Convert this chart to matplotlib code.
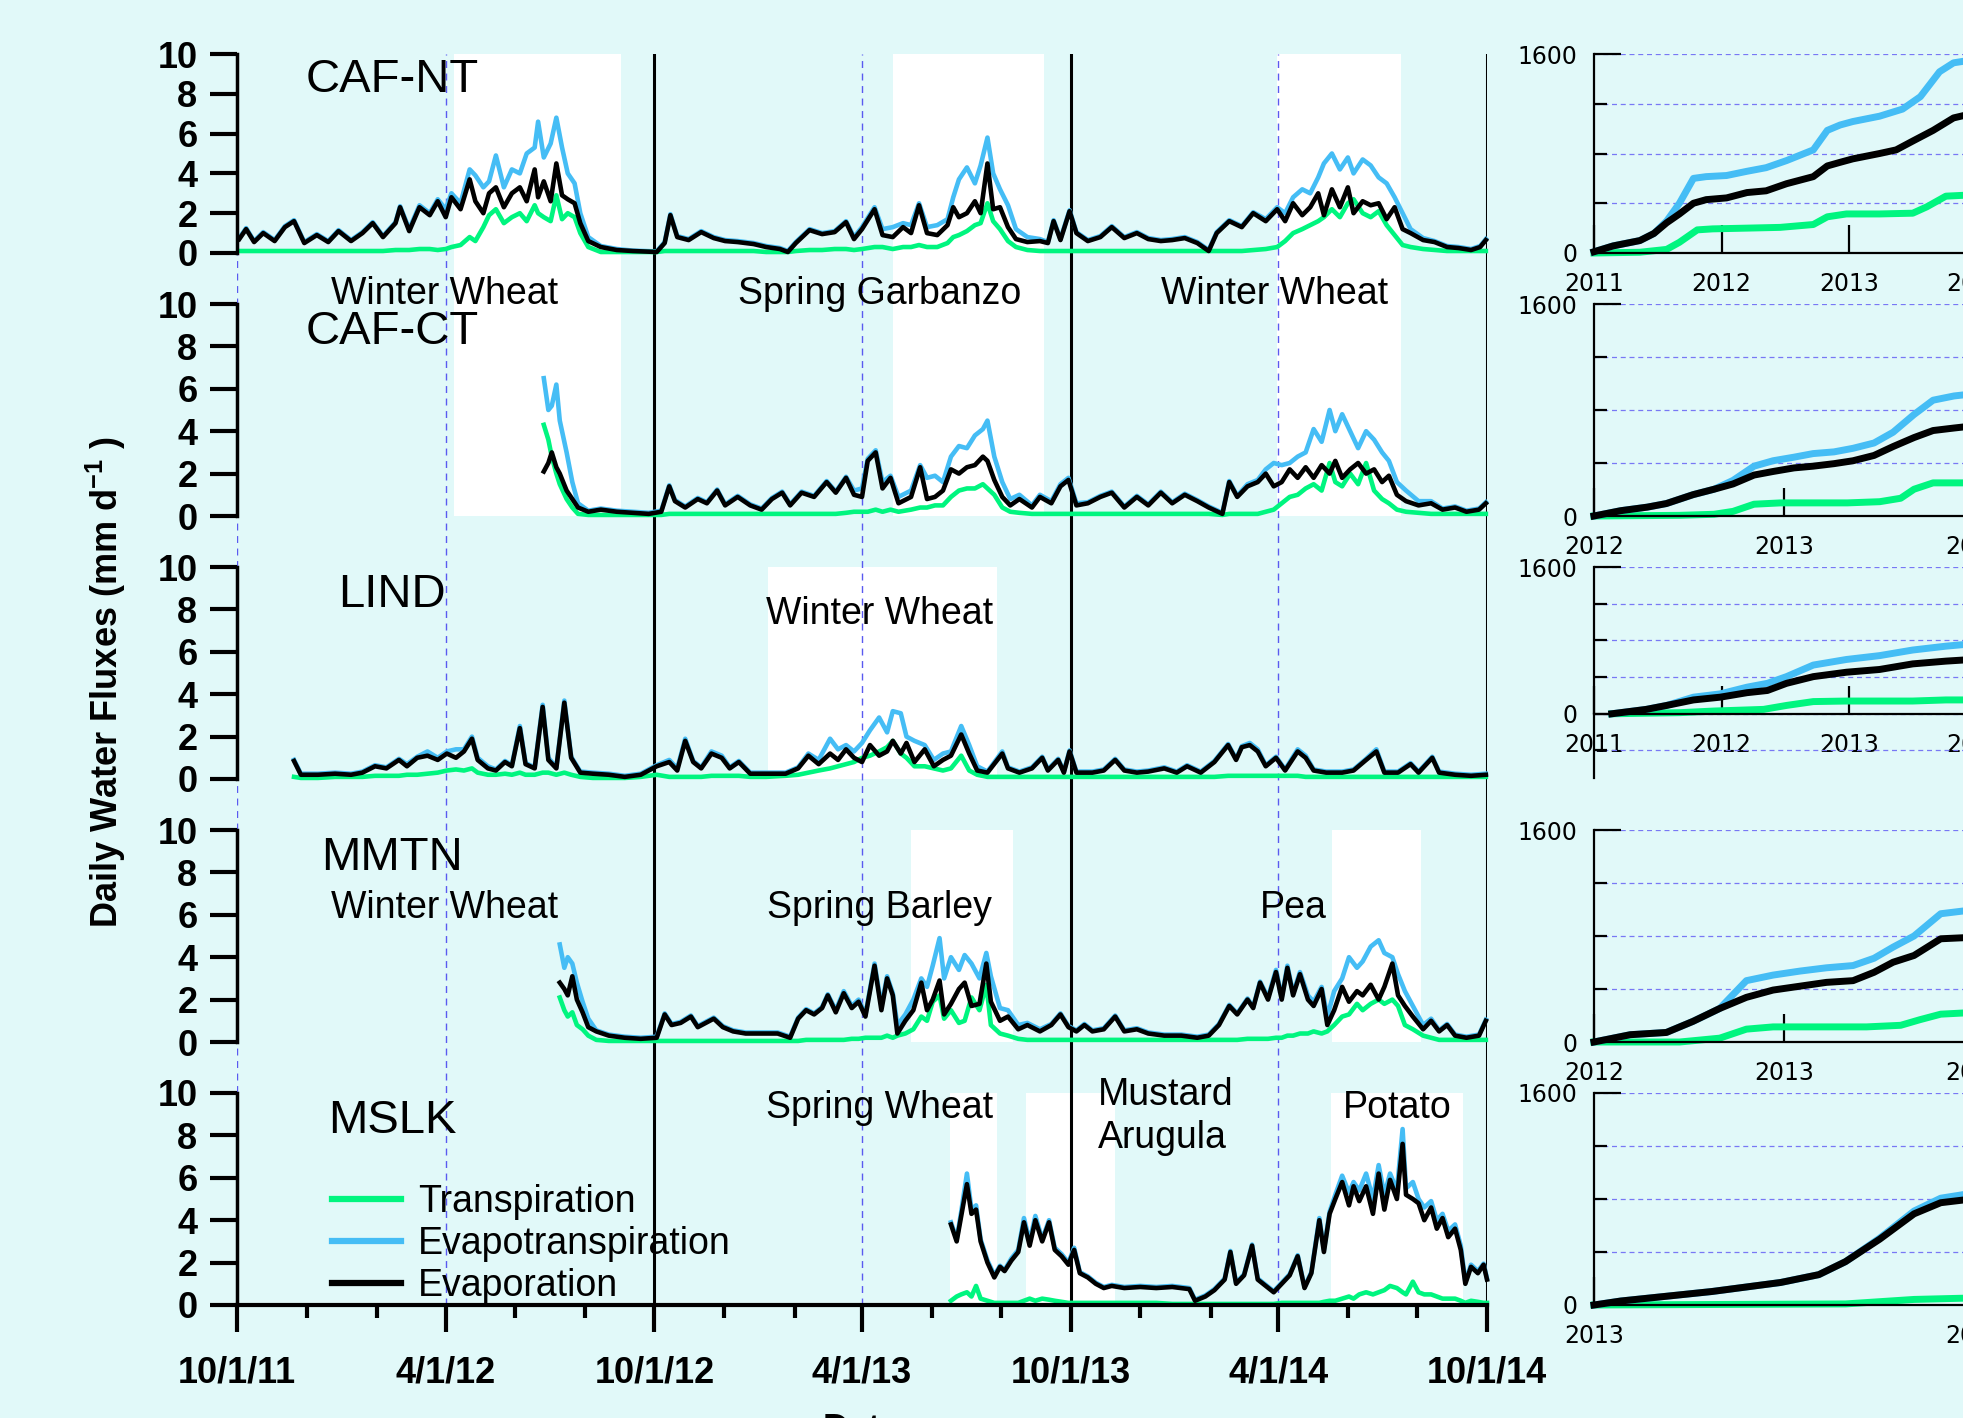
import numpy as np
import matplotlib
matplotlib.use('Agg')
import matplotlib.pyplot as plt
import matplotlib.dates as mdates

plt.rcParams['font.family'] = ['Liberation Sans', 'DejaVu Sans']
plt.rcParams['mathtext.fontset'] = 'custom'
plt.rcParams['mathtext.rm'] = 'Liberation Sans'
plt.rcParams['mathtext.bf'] = 'Liberation Sans:bold'

BG = '#E1F9F9'
GREEN = '#00F57F'
BLUE = '#45BDF5'
DASH = '#5A5AF0'
GRID = '#7878F5'

# ---------------- daily water fluxes (mm/d), day 0 = 10/1/11 ----------------
days_nt = [2, 8, 15, 23, 33, 42, 50, 59, 70, 80,
           89, 100, 110, 119, 128, 139, 143, 151, 160, 169,
           176, 183, 188, 196, 204, 209, 216, 221, 227, 234,
           241, 248, 254, 261, 264, 269, 275, 280, 285, 290,
           296, 301, 308, 319, 333, 347, 368, 375, 380, 386,
           396, 407, 418, 428, 439, 453, 464, 476, 483, 490,
           502, 513, 524, 534, 541, 548, 559, 566, 575, 584,
           591, 598, 605, 614, 623, 628, 633, 640, 647, 652,
           658, 663, 669, 676, 683, 693, 704, 711, 716, 722,
           730, 736, 746, 757, 767, 778, 789, 799, 810, 820,
           831, 842, 852, 859, 870, 881, 891, 902, 912, 919,
           926, 934, 941, 948, 953, 960, 967, 974, 979, 987,
           994, 1001, 1008, 1015, 1022, 1029, 1040, 1050, 1061, 1071,
           1082, 1090, 1095]
e_nt = [0.7, 1.2, 0.55, 1.0, 0.6, 1.3, 1.6, 0.5, 0.9, 0.55,
        1.1, 0.6, 1.0, 1.5, 0.8, 1.5, 2.3, 1.1, 2.3, 1.9,
        2.6, 1.8, 2.8, 2.2, 3.7, 2.6, 2.0, 3.0, 3.3, 2.3,
        3.0, 3.3, 2.6, 4.2, 2.8, 3.6, 2.6, 4.5, 2.9, 2.7,
        2.5, 1.5, 0.6, 0.3, 0.15, 0.1, 0.05, 0.5, 1.9, 0.8,
        0.65, 1.05, 0.75, 0.6, 0.55, 0.45, 0.3, 0.2, 0.05, 0.5,
        1.15, 0.95, 1.05, 1.55, 0.7, 1.2, 2.2, 0.9, 0.8, 1.3,
        1.0, 2.4, 1.0, 0.9, 1.4, 2.3, 1.8, 2.0, 2.6, 2.0,
        4.5, 2.2, 2.3, 1.3, 0.7, 0.55, 0.6, 0.5, 1.6, 0.65,
        2.1, 1.0, 0.6, 0.8, 1.3, 0.75, 1.0, 0.7, 0.6, 0.65,
        0.75, 0.5, 0.1, 1.0, 1.6, 1.3, 2.0, 1.6, 2.2, 1.6,
        2.5, 1.9, 2.3, 3.0, 1.9, 3.2, 2.3, 3.3, 2.0, 2.6,
        2.4, 2.5, 1.7, 2.3, 1.2, 1.0, 0.65, 0.55, 0.3, 0.25,
        0.15, 0.3, 0.65]
et_nt = [0.75, 1.25, 0.6, 1.05, 0.65, 1.35, 1.65, 0.55, 0.95, 0.6,
         1.15, 0.65, 1.05, 1.55, 0.85, 1.55, 2.35, 1.2, 2.4, 2.0,
         2.7, 2.2, 3.0, 2.5, 4.2, 3.9, 3.3, 3.6, 4.9, 3.3,
         4.2, 4.0, 5.0, 5.3, 6.6, 4.8, 5.5, 6.8, 5.3, 4.0,
         3.5, 2.0, 0.8, 0.35, 0.2, 0.12, 0.08, 0.55, 1.95, 0.85,
         0.7, 1.1, 0.8, 0.65, 0.6, 0.5, 0.35, 0.25, 0.1, 0.55,
         1.2, 1.0, 1.1, 1.6, 0.8, 1.3, 2.3, 1.2, 1.3, 1.5,
         1.4, 2.5, 1.3, 1.4, 1.7, 2.8, 3.7, 4.3, 3.5, 4.4,
         5.8, 4.0, 3.2, 2.4, 1.2, 0.8, 0.7, 0.55, 1.65, 0.7,
         2.15, 1.05, 0.65, 0.85, 1.35, 0.8, 1.05, 0.75, 0.65, 0.7,
         0.8, 0.55, 0.15, 1.05, 1.65, 1.35, 2.05, 1.7, 2.3, 2.0,
         2.8, 3.2, 3.0, 3.8, 4.5, 5.0, 4.2, 4.8, 4.0, 4.7,
         4.4, 3.8, 3.5, 2.8, 2.0, 1.2, 0.75, 0.6, 0.35, 0.3,
         0.2, 0.35, 0.7]
t_nt = [0.1, 0.1, 0.1, 0.1, 0.1, 0.1, 0.1, 0.1, 0.1, 0.1,
        0.1, 0.1, 0.1, 0.1, 0.1, 0.15, 0.15, 0.15, 0.2, 0.2,
        0.15, 0.2, 0.3, 0.4, 0.8, 0.6, 1.3, 1.9, 2.2, 1.5,
        1.8, 2.0, 1.6, 2.4, 2.0, 1.8, 1.6, 2.9, 1.7, 2.0,
        1.8, 1.0, 0.3, 0.05, 0.05, 0.05, 0.05, 0.1, 0.1, 0.1,
        0.1, 0.1, 0.1, 0.1, 0.1, 0.1, 0.05, 0.05, 0.05, 0.1,
        0.15, 0.15, 0.2, 0.2, 0.15, 0.2, 0.3, 0.3, 0.2, 0.3,
        0.3, 0.4, 0.3, 0.3, 0.5, 0.8, 0.9, 1.1, 1.4, 1.5,
        2.5, 1.6, 1.2, 0.6, 0.3, 0.15, 0.1, 0.1, 0.1, 0.1,
        0.1, 0.1, 0.1, 0.1, 0.1, 0.1, 0.1, 0.1, 0.1, 0.1,
        0.1, 0.1, 0.1, 0.1, 0.1, 0.1, 0.15, 0.2, 0.3, 0.6,
        1.0, 1.2, 1.4, 1.6, 1.8, 2.2, 1.8, 2.5, 2.7, 2.0,
        1.8, 2.1, 1.4, 0.9, 0.4, 0.3, 0.2, 0.15, 0.1, 0.1,
        0.1, 0.1, 0.1]

days_ct = [269, 273, 276, 280, 283, 289, 294, 299, 308, 319,
           333, 347, 361, 372, 379, 384, 393, 404, 412, 421,
           428, 439, 450, 460, 469, 478, 485, 495, 506, 517,
           525, 534, 541, 548, 553, 560, 566, 573, 580, 591,
           599, 605, 612, 619, 626, 633, 640, 647, 654, 658,
           664, 671, 678, 686, 697, 704, 714, 722, 729, 736,
           746, 757, 767, 778, 789, 799, 810, 820, 831, 842,
           852, 864, 870, 877, 886, 895, 902, 909, 916, 923,
           930, 937, 944, 951, 958, 963, 969, 976, 983, 990,
           997, 1004, 1010, 1017, 1025, 1036, 1047, 1057, 1068, 1078,
           1089, 1095]
e_ct = [2.1, 2.5, 3.0, 2.3, 2.0, 1.2, 0.8, 0.4, 0.2, 0.3,
        0.2, 0.15, 0.1, 0.2, 1.4, 0.7, 0.4, 0.8, 0.6, 1.2,
        0.5, 0.9, 0.5, 0.3, 0.8, 1.1, 0.5, 1.1, 0.9, 1.6,
        1.1, 1.8, 1.0, 0.9, 2.6, 3.0, 1.3, 1.8, 0.6, 0.9,
        2.3, 0.8, 0.9, 1.2, 2.2, 2.0, 2.3, 2.4, 2.8, 2.6,
        1.7, 0.9, 0.5, 0.8, 0.4, 0.9, 0.6, 1.4, 1.7, 0.5,
        0.6, 0.9, 1.1, 0.4, 0.9, 0.5, 1.1, 0.6, 1.0, 0.7,
        0.4, 0.1, 1.6, 0.9, 1.4, 1.6, 2.0, 1.4, 1.6, 2.2,
        1.8, 2.3, 1.8, 2.4, 2.0, 2.6, 1.8, 2.2, 2.5, 2.0,
        2.2, 1.6, 1.9, 1.0, 0.7, 0.5, 0.6, 0.3, 0.4, 0.2,
        0.3, 0.6]
et_ct = [6.5, 5.0, 5.2, 6.2, 4.5, 3.0, 1.6, 0.6, 0.25, 0.35,
         0.25, 0.2, 0.15, 0.25, 1.45, 0.75, 0.45, 0.85, 0.65, 1.25,
         0.55, 0.95, 0.55, 0.35, 0.85, 1.15, 0.55, 1.15, 0.95, 1.65,
         1.15, 1.85, 1.2, 1.3, 2.7, 3.1, 1.6, 1.9, 0.9, 1.2,
         2.4, 1.8, 1.9, 1.6, 2.8, 3.3, 3.2, 3.8, 4.1, 4.5,
         2.8, 1.6, 0.8, 1.0, 0.5, 1.0, 0.7, 1.5, 1.8, 0.6,
         0.65, 0.95, 1.15, 0.45, 0.95, 0.55, 1.15, 0.65, 1.05, 0.75,
         0.45, 0.15, 1.65, 0.95, 1.5, 1.7, 2.2, 2.5, 2.4, 2.5,
         2.8, 3.0, 4.1, 3.5, 5.0, 4.0, 4.8, 4.0, 3.2, 4.0,
         3.6, 3.0, 2.6, 1.6, 1.2, 0.7, 0.7, 0.35, 0.45, 0.25,
         0.35, 0.65]
t_ct = [4.3, 3.6, 2.8, 2.0, 1.5, 0.8, 0.4, 0.1, 0.05, 0.05,
        0.05, 0.05, 0.05, 0.05, 0.1, 0.1, 0.1, 0.1, 0.1, 0.1,
        0.1, 0.1, 0.1, 0.1, 0.1, 0.1, 0.1, 0.1, 0.1, 0.1,
        0.1, 0.15, 0.2, 0.2, 0.2, 0.3, 0.2, 0.3, 0.2, 0.3,
        0.4, 0.4, 0.5, 0.5, 0.9, 1.2, 1.3, 1.3, 1.5, 1.3,
        1.0, 0.4, 0.2, 0.15, 0.1, 0.1, 0.1, 0.1, 0.1, 0.1,
        0.1, 0.1, 0.1, 0.1, 0.1, 0.1, 0.1, 0.1, 0.1, 0.1,
        0.1, 0.05, 0.1, 0.1, 0.1, 0.1, 0.2, 0.3, 0.6, 0.9,
        1.0, 1.3, 1.5, 1.2, 2.5, 1.6, 1.4, 2.0, 1.5, 2.5,
        1.2, 0.8, 0.6, 0.3, 0.2, 0.15, 0.1, 0.1, 0.1, 0.1,
        0.1, 0.1]

days_lind = [50, 56, 71, 86, 100, 110, 121, 131, 142, 149,
             158, 167, 176, 184, 192, 199, 206, 211, 220, 227,
             235, 241, 248, 253, 261, 268, 273, 280, 287, 293,
             301, 312, 326, 340, 354, 368, 379, 386, 393, 400,
             407, 416, 425, 432, 440, 450, 464, 481, 492, 501,
             510, 520, 527, 534, 541, 548, 555, 563, 570, 575,
             582, 587, 594, 603, 611, 619, 626, 635, 642, 649,
             658, 671, 676, 686, 697, 706, 711, 720, 725, 730,
             736, 750, 760, 770, 778, 789, 799, 813, 824, 833,
             845, 857, 869, 876, 881, 888, 895, 902, 911, 919,
             930, 937, 944, 955, 969, 979, 990, 999, 1006, 1018,
             1029, 1036, 1048, 1054, 1068, 1082, 1095]
e_lind = [0.85, 0.2, 0.2, 0.25, 0.2, 0.3, 0.6, 0.5, 0.9, 0.6,
          1.0, 1.1, 0.9, 1.2, 1.0, 1.3, 1.9, 0.9, 0.5, 0.4,
          0.8, 0.6, 2.4, 0.7, 0.5, 3.4, 0.9, 0.5, 3.6, 1.0,
          0.3, 0.25, 0.2, 0.1, 0.2, 0.6, 0.8, 0.4, 1.8, 0.8,
          0.5, 1.2, 1.0, 0.5, 0.8, 0.25, 0.25, 0.25, 0.5, 1.1,
          0.7, 1.2, 0.9, 1.4, 1.0, 0.8, 1.6, 1.1, 1.3, 1.8,
          1.2, 1.7, 0.8, 1.4, 0.6, 0.9, 1.1, 2.1, 1.2, 0.4,
          0.3, 1.2, 0.5, 0.3, 0.5, 1.0, 0.4, 0.9, 0.3, 1.3,
          0.3, 0.3, 0.4, 0.9, 0.4, 0.3, 0.35, 0.5, 0.3, 0.6,
          0.3, 0.8, 1.6, 0.9, 1.5, 1.6, 1.3, 0.6, 1.0, 0.4,
          1.3, 1.0, 0.4, 0.3, 0.3, 0.4, 0.9, 1.3, 0.3, 0.3,
          0.7, 0.3, 1.0, 0.3, 0.2, 0.15, 0.2]
et_lind = [0.9, 0.25, 0.25, 0.3, 0.25, 0.35, 0.65, 0.55, 0.95, 0.7,
           1.05, 1.3, 1.0, 1.3, 1.4, 1.4, 2.0, 1.0, 0.6, 0.45,
           0.85, 0.65, 2.5, 0.75, 0.55, 3.5, 1.0, 0.55, 3.7, 1.05,
           0.35, 0.3, 0.25, 0.15, 0.25, 0.65, 0.9, 0.5, 1.9, 0.85,
           0.55, 1.3, 1.1, 0.55, 0.85, 0.3, 0.3, 0.3, 0.55, 1.2,
           0.9, 1.9, 1.4, 1.6, 1.3, 1.7, 2.3, 2.9, 2.2, 3.2,
           3.1, 2.0, 1.8, 1.6, 0.9, 1.2, 1.3, 2.5, 1.6, 0.6,
           0.35, 1.3, 0.55, 0.35, 0.55, 1.05, 0.45, 0.95, 0.35, 1.35,
           0.35, 0.35, 0.45, 0.95, 0.45, 0.35, 0.4, 0.55, 0.35, 0.65,
           0.35, 0.85, 1.65, 0.95, 1.55, 1.7, 1.4, 0.65, 1.05, 0.45,
           1.4, 1.1, 0.45, 0.35, 0.35, 0.45, 0.95, 1.4, 0.35, 0.35,
           0.75, 0.35, 1.05, 0.35, 0.25, 0.2, 0.25]
t_lind = [0.1, 0.05, 0.05, 0.1, 0.1, 0.1, 0.15, 0.15, 0.15, 0.2,
          0.2, 0.25, 0.3, 0.4, 0.45, 0.4, 0.5, 0.3, 0.2, 0.2,
          0.25, 0.2, 0.3, 0.2, 0.2, 0.3, 0.3, 0.2, 0.3, 0.2,
          0.1, 0.05, 0.05, 0.05, 0.1, 0.2, 0.1, 0.1, 0.1, 0.1,
          0.1, 0.15, 0.15, 0.15, 0.15, 0.1, 0.1, 0.15, 0.2, 0.3,
          0.4, 0.5, 0.6, 0.7, 0.8, 1.0, 1.1, 1.3, 1.5, 1.8,
          1.2, 1.0, 0.6, 0.6, 0.5, 0.4, 0.5, 1.1, 0.4, 0.2,
          0.1, 0.1, 0.1, 0.1, 0.1, 0.1, 0.1, 0.1, 0.1, 0.1,
          0.1, 0.1, 0.1, 0.1, 0.1, 0.1, 0.1, 0.1, 0.1, 0.1,
          0.1, 0.1, 0.15, 0.15, 0.15, 0.15, 0.15, 0.15, 0.15, 0.15,
          0.15, 0.1, 0.1, 0.1, 0.1, 0.1, 0.1, 0.1, 0.1, 0.1,
          0.1, 0.1, 0.1, 0.1, 0.1, 0.1, 0.1]

days_mmtn = [283, 287, 290, 294, 298, 303, 308, 315, 326, 340,
             354, 368, 375, 381, 389, 398, 404, 411, 418, 426,
             435, 446, 460, 474, 485, 492, 499, 506, 513, 518,
             525, 532, 539, 545, 551, 559, 565, 570, 575, 579,
             586, 593, 600, 605, 610, 616, 620, 626, 633, 638,
             644, 651, 657, 661, 669, 676, 685, 693, 704, 714,
             722, 729, 736, 743, 750, 760, 770, 778, 789, 799,
             813, 828, 842, 852, 861, 870, 877, 886, 891, 897,
             904, 911, 916, 921, 926, 932, 939, 944, 951, 956,
             962, 969, 975, 982, 987, 994, 1001, 1006, 1013, 1018,
             1024, 1031, 1040, 1047, 1054, 1061, 1068, 1078, 1089, 1095]
e_mmtn = [2.8, 2.5, 2.2, 3.1, 2.0, 1.4, 0.7, 0.5, 0.3, 0.2,
          0.15, 0.2, 1.3, 0.8, 0.9, 1.2, 0.7, 0.9, 1.1, 0.7,
          0.5, 0.4, 0.4, 0.4, 0.2, 1.1, 1.5, 1.3, 1.6, 2.2,
          1.4, 2.3, 1.6, 1.9, 1.2, 3.6, 1.5, 3.0, 2.2, 0.4,
          1.0, 1.5, 2.8, 1.5, 2.0, 2.9, 1.3, 1.8, 2.5, 2.8,
          1.7, 1.8, 3.7, 1.9, 1.0, 1.2, 0.6, 0.8, 0.5, 0.8,
          1.3, 0.7, 0.5, 0.8, 0.5, 0.6, 1.2, 0.5, 0.6, 0.4,
          0.3, 0.3, 0.2, 0.3, 0.8, 1.7, 1.3, 2.0, 1.6, 2.8,
          2.0, 3.3, 2.0, 3.5, 2.2, 3.2, 2.0, 1.7, 2.5, 0.8,
          1.5, 2.6, 1.9, 2.4, 2.2, 2.7, 2.0, 2.6, 3.7, 2.2,
          1.7, 1.2, 0.6, 1.0, 0.5, 0.8, 0.3, 0.2, 0.3, 1.0]
et_mmtn = [4.6, 3.5, 4.0, 3.7, 2.8, 1.9, 1.1, 0.55, 0.35, 0.25,
           0.2, 0.25, 1.35, 0.85, 0.95, 1.25, 0.75, 0.95, 1.15, 0.75,
           0.55, 0.45, 0.45, 0.45, 0.25, 1.15, 1.55, 1.35, 1.65, 2.25,
           1.5, 2.4, 1.7, 2.0, 1.3, 3.7, 1.7, 3.1, 2.3, 0.8,
           1.3, 2.0, 3.0, 2.6, 3.6, 4.9, 3.0, 4.0, 3.4, 4.1,
           3.7, 3.0, 4.2, 3.1, 1.6, 1.5, 0.8, 0.9, 0.6, 0.85,
           1.35, 0.75, 0.55, 0.85, 0.55, 0.65, 1.25, 0.55, 0.65, 0.45,
           0.35, 0.35, 0.25, 0.35, 0.85, 1.75, 1.35, 2.05, 1.65, 2.85,
           2.1, 3.4, 2.1, 3.6, 2.3, 3.3, 2.2, 1.9, 2.6, 1.2,
           2.4, 3.0, 4.0, 3.5, 3.8, 4.5, 4.8, 4.2, 4.0, 3.2,
           2.4, 1.7, 0.8, 1.1, 0.55, 0.85, 0.35, 0.25, 0.35, 1.05]
t_mmtn = [2.1, 1.5, 1.2, 1.4, 0.8, 0.6, 0.3, 0.1, 0.05, 0.05,
          0.05, 0.05, 0.05, 0.05, 0.05, 0.05, 0.05, 0.05, 0.05, 0.05,
          0.05, 0.05, 0.05, 0.05, 0.05, 0.05, 0.1, 0.1, 0.1, 0.1,
          0.1, 0.1, 0.15, 0.15, 0.2, 0.2, 0.2, 0.3, 0.2, 0.3,
          0.4, 0.6, 1.2, 1.0, 1.9, 2.2, 1.1, 1.5, 0.9, 1.0,
          2.1, 1.5, 2.7, 0.8, 0.4, 0.3, 0.15, 0.1, 0.1, 0.1,
          0.1, 0.1, 0.1, 0.1, 0.1, 0.1, 0.1, 0.1, 0.1, 0.1,
          0.1, 0.1, 0.1, 0.1, 0.1, 0.1, 0.1, 0.15, 0.15, 0.15,
          0.15, 0.2, 0.2, 0.3, 0.3, 0.4, 0.4, 0.5, 0.4, 0.5,
          0.8, 1.2, 1.3, 1.8, 1.5, 1.8, 2.0, 1.8, 2.0, 1.7,
          0.8, 0.6, 0.3, 0.2, 0.1, 0.1, 0.1, 0.1, 0.1, 0.1]

days_mslk = [626, 631, 635, 640, 644, 648, 652, 658, 664, 669,
             673, 679, 685, 690, 695, 700, 706, 712, 717, 723,
             729, 734, 739, 746, 753, 760, 767, 778, 792, 806,
             820, 835, 840, 849, 857, 866, 871, 876, 883, 890,
             895, 902, 909, 916, 923, 930, 936, 942, 949, 953,
             958, 963, 969, 975, 979, 984, 990, 996, 1001, 1006,
             1011, 1017, 1022, 1025, 1031, 1036, 1041, 1047, 1052, 1057,
             1062, 1068, 1073, 1077, 1082, 1088, 1093, 1096]
e_mslk = [3.8, 3.0, 4.2, 5.7, 4.3, 4.5, 3.0, 2.0, 1.3, 1.8,
          1.6, 2.1, 2.5, 3.9, 2.8, 4.0, 3.0, 3.9, 2.6, 2.3,
          1.9, 2.6, 1.5, 1.3, 1.0, 0.8, 0.9, 0.8, 0.85, 0.8,
          0.85, 0.75, 0.2, 0.4, 0.7, 1.2, 2.5, 1.0, 1.4, 2.8,
          1.2, 0.9, 0.6, 1.0, 1.4, 2.3, 0.8, 1.5, 4.0, 2.5,
          4.3, 5.0, 5.8, 4.7, 5.6, 4.9, 5.6, 4.3, 6.2, 4.5,
          5.9, 5.0, 7.6, 5.2, 5.0, 4.8, 4.0, 4.6, 3.6, 4.1,
          3.2, 3.6, 2.6, 1.0, 1.8, 1.5, 1.9, 1.2]
et_mslk = [3.9, 3.1, 4.4, 6.2, 4.5, 4.7, 3.1, 2.1, 1.4, 1.85,
           1.65, 2.2, 2.6, 4.1, 3.0, 4.2, 3.1, 4.0, 2.7, 2.4,
           2.0, 2.7, 1.55, 1.35, 1.05, 0.85, 0.95, 0.85, 0.9, 0.85,
           0.9, 0.8, 0.25, 0.45, 0.75, 1.25, 2.55, 1.05, 1.45, 2.85,
           1.25, 0.95, 0.65, 1.05, 1.45, 2.35, 0.85, 1.55, 4.1, 2.6,
           4.4, 5.2, 6.1, 5.3, 5.8, 5.4, 6.2, 5.0, 6.6, 5.2,
           6.2, 5.4, 8.3, 5.5, 5.8, 5.0, 4.6, 4.9, 4.0, 4.3,
           3.5, 3.8, 2.8, 1.1, 1.9, 1.6, 1.95, 1.25]
t_mslk = [0.2, 0.4, 0.5, 0.6, 0.4, 0.9, 0.3, 0.2, 0.1, 0.1,
          0.1, 0.1, 0.1, 0.2, 0.3, 0.2, 0.3, 0.25, 0.2, 0.15,
          0.1, 0.1, 0.1, 0.1, 0.1, 0.1, 0.1, 0.1, 0.1, 0.1,
          0.05, 0.05, 0.05, 0.05, 0.05, 0.05, 0.05, 0.05, 0.05, 0.05,
          0.05, 0.05, 0.05, 0.1, 0.1, 0.1, 0.1, 0.1, 0.1, 0.15,
          0.2, 0.2, 0.3, 0.4, 0.3, 0.5, 0.6, 0.5, 0.6, 0.7,
          0.9, 0.8, 0.6, 0.5, 1.1, 0.6, 0.5, 0.5, 0.4, 0.3,
          0.3, 0.3, 0.2, 0.1, 0.2, 0.15, 0.1, 0.1]

# growing seasons (day ranges, white background)
seasons_caf = [(190, 337), (575, 708), (912, 1021)]
seasons_lind = [(466, 666)]
seasons_mmtn = [(591, 680), (960, 1038)]
seasons_mslk = [(625, 666), (692, 770), (959, 1075)]

site_names = ['CAF-NT', 'CAF-CT', 'LIND', 'MMTN', 'MSLK']
crops_caf = ['Winter Wheat', 'Spring Garbanzo', 'Winter Wheat']
crops_lind = ['Winter Wheat']
crops_mmtn = ['Winter Wheat', 'Spring Barley', 'Pea']
crops_mslk = ['Spring Wheat', 'Mustard\nArugula', 'Potato']

xtick_dates = ['2011-10-01', '2012-04-01', '2012-10-01', '2013-04-01',
               '2013-10-01', '2014-04-01', '2014-10-01']
xtick_labels = ['10/1/11', '4/1/12', '10/1/12', '4/1/13', '10/1/13', '4/1/14', '10/1/14']
ytick_vals = [0, 2, 4, 6, 8, 10]

# ---------------- cumulative fluxes (mm) for the small panels ----------------
c_nt_e_x = [2011.0, 2011.15, 2011.36, 2011.47, 2011.57, 2011.67, 2011.78, 2011.88, 2012.04, 2012.20,
            2012.35, 2012.51, 2012.72, 2012.83, 2012.93, 2013.03, 2013.24, 2013.37, 2013.50, 2013.66,
            2013.82, 2013.92]
c_nt_e = [10, 57, 100, 157, 243, 314, 400, 429, 443, 486,
          500, 557, 614, 700, 729, 757, 800, 829, 900, 986,
          1086, 1110]
c_nt_et_x = [2011.0, 2011.15, 2011.36, 2011.47, 2011.57, 2011.67, 2011.78, 2011.88, 2012.04, 2012.20,
             2012.35, 2012.51, 2012.72, 2012.83, 2012.93, 2013.03, 2013.24, 2013.42, 2013.56, 2013.71,
             2013.82, 2013.92]
c_nt_et = [10, 57, 100, 157, 257, 400, 600, 614, 623, 657,
           686, 743, 829, 986, 1029, 1057, 1100, 1157, 1257, 1457,
           1529, 1545]
c_nt_t_x = [2011.0, 2011.36, 2011.57, 2011.67, 2011.81, 2011.93, 2012.20, 2012.46, 2012.72, 2012.83,
            2012.98, 2013.24, 2013.50, 2013.61, 2013.76, 2013.92]
c_nt_t = [0, 6, 29, 86, 186, 194, 200, 206, 229, 291,
          314, 314, 320, 371, 457, 465]

c_ct_e_x = [2012.0, 2012.14, 2012.28, 2012.38, 2012.52, 2012.63, 2012.73, 2012.84, 2012.94, 2013.05,
            2013.15, 2013.26, 2013.36, 2013.47, 2013.57, 2013.68, 2013.78, 2013.89, 2013.94]
c_ct_e = [0, 40, 67, 94, 161, 202, 242, 309, 336, 363,
          376, 395, 417, 457, 524, 592, 645, 664, 672]
c_ct_et_x = c_ct_e_x
c_ct_et = [0, 40, 67, 94, 161, 202, 269, 376, 417, 444,
           471, 484, 511, 551, 632, 766, 874, 906, 914]
c_ct_t_x = [2012.0, 2012.45, 2012.63, 2012.73, 2012.84, 2012.98, 2013.15, 2013.33, 2013.50, 2013.61,
            2013.68, 2013.78, 2013.94]
c_ct_t = [0, 5, 13, 35, 89, 99, 99, 99, 108, 134,
          202, 250, 250]

c_lind_e_x = [2011.14, 2011.41, 2011.57, 2011.78, 2011.99, 2012.20, 2012.36, 2012.51, 2012.72, 2012.98,
              2013.24, 2013.50, 2013.76, 2013.92]
c_lind_e = [0, 48, 91, 151, 181, 230, 254, 332, 405, 453,
            483, 544, 574, 588]
c_lind_et_x = c_lind_e_x
c_lind_et = [0, 48, 91, 181, 217, 290, 332, 405, 531, 592,
             634, 695, 737, 757]
c_lind_t_x = [2011.14, 2011.67, 2011.94, 2012.33, 2012.51, 2012.72, 2012.98, 2013.50, 2013.76, 2013.92]
c_lind_t = [0, 12, 30, 48, 91, 133, 139, 139, 151, 151]

c_mmtn_e_x = [2012.0, 2012.19, 2012.38, 2012.52, 2012.66, 2012.80, 2012.94, 2013.08, 2013.22, 2013.36,
              2013.47, 2013.57, 2013.68, 2013.82, 2013.94]
c_mmtn_e = [0, 55, 72, 156, 253, 337, 392, 421, 450, 463,
            526, 602, 653, 779, 787]
c_mmtn_et_x = c_mmtn_e_x
c_mmtn_et = [0, 55, 72, 156, 253, 463, 505, 535, 560, 577,
             632, 716, 800, 968, 989]
c_mmtn_t_x = [2012.0, 2012.45, 2012.66, 2012.80, 2012.94, 2013.15, 2013.43, 2013.61, 2013.71, 2013.82,
              2013.94]
c_mmtn_t = [0, 0, 29, 97, 114, 114, 114, 126, 168, 210,
            219]

c_mslk_e_x = [2013.0, 2013.07, 2013.14, 2013.31, 2013.49, 2013.59, 2013.66, 2013.75, 2013.84, 2013.91,
              2013.98]
c_mslk_e = [0, 30, 51, 102, 170, 229, 327, 497, 688, 772,
            796]
c_mslk_et_x = c_mslk_e_x
c_mslk_et = [0, 30, 51, 102, 170, 229, 327, 505, 709, 806,
             838]
c_mslk_t_x = [2013.0, 2013.66, 2013.84, 2013.98]
c_mslk_t = [0, 8, 42, 52]

# ---------------- layout helpers (pixel boxes of the 1963x1418 canvas) ----------------
W, H = 1963.0, 1418.0
X0, X1 = 237, 1487
rows = [(54, 253), (304, 516), (567, 779), (830, 1042), (1093, 1305)]


def rect(x0, top, x1, bot):
    return [x0 / W, 1 - bot / H, (x1 - x0) / W, (bot - top) / H]


t0 = np.datetime64('2011-10-01')
t1 = np.datetime64('2014-10-01')


def dates(d):
    return t0 + np.asarray(d).astype('timedelta64[D]')


fig = plt.figure(figsize=(W / 100, H / 100), dpi=100)
fig.patch.set_facecolor(BG)

# background axes: white season bands and the vertical date lines
ax_bg = fig.add_axes(rect(X0, rows[0][0], X1, rows[-1][1]), zorder=0)
ax_bg.set_xlim(t0, t1)
ax_bg.set_ylim(0, 1)
ax_bg.axis('off')

series = [(days_nt, t_nt, et_nt, e_nt), (days_ct, t_ct, et_ct, e_ct),
          (days_lind, t_lind, et_lind, e_lind), (days_mmtn, t_mmtn, et_mmtn, e_mmtn),
          (days_mslk, t_mslk, et_mslk, e_mslk)]

LW = 3.3
axs = []
for name, (top, bot), (d, t, et, e) in zip(site_names, rows, series):
    ax = fig.add_axes(rect(X0, top, X1, bot), zorder=2)
    ax.set_facecolor('none')
    x = dates(d)
    ax.plot(x, et, color=BLUE, lw=LW, clip_on=False, label='Evapotranspiration')
    ax.plot(x, t, color=GREEN, lw=LW, clip_on=False, label='Transpiration')
    ax.plot(x, e, color='black', lw=LW, clip_on=False, label='Evaporation')
    ax.set_xlim(t0, t1)
    ax.set_ylim(0, 10)
    for s in ['top', 'right', 'bottom']:
        ax.spines[s].set_visible(False)
    ax.spines['left'].set_linewidth(2.5)
    ax.set_yticks(ytick_vals, [str(v) for v in ytick_vals], fontsize=26, fontweight='bold')
    ax.tick_params(axis='y', length=19.5, width=3, pad=9)
    ax.tick_params(axis='x', which='both', bottom=False, labelbottom=False)
    ax.text(0.124, 0.867, name, transform=ax.transAxes, ha='center', va='center', fontsize=34)
    axs.append(ax)

# date axis on the last panel
axb = axs[-1]
axb.spines['bottom'].set_visible(True)
axb.spines['bottom'].set_linewidth(3)
axb.set_xticks(np.array(xtick_dates, dtype='datetime64[D]'), xtick_labels,
               fontsize=26, fontweight='bold')
axb.xaxis.set_minor_locator(mdates.MonthLocator(bymonth=[2, 6, 8, 12]))
axb.tick_params(axis='x', which='major', bottom=True, labelbottom=True, length=19.5, width=3, pad=17)
axb.tick_params(axis='x', which='minor', bottom=True, length=9.5, width=3)


def yfrac(ax):
    p, g = ax.get_position(), ax_bg.get_position()
    return (p.y0 - g.y0) / g.height, (p.y1 - g.y0) / g.height


bands = [(axs[1], axs[0], seasons_caf), (axs[2], axs[2], seasons_lind),
         (axs[3], axs[3], seasons_mmtn), (axs[4], axs[4], seasons_mslk)]
for lo, hi, seas in bands:
    ymin, ymax = yfrac(lo)[0], yfrac(hi)[1]
    for a, b in seas:
        ax_bg.axvspan(t0 + np.timedelta64(a, 'D'), t0 + np.timedelta64(b, 'D'),
                      ymin, ymax, facecolor='white', lw=0, zorder=1)

for d in ['2012-10-01', '2013-10-01', '2014-10-01']:
    ax_bg.axvline(np.datetime64(d), color='black', lw=2.2, zorder=3)
for d in ['2011-10-01', '2012-04-01', '2013-04-01', '2014-04-01']:
    ax_bg.axvline(np.datetime64(d), color=DASH, lw=1, ls=(0, (5, 4)), zorder=3)

# crop labels
crop_pos = {0: [(0.166, -0.207), (0.514, -0.207), (0.830, -0.207)],
            2: [(0.514, 0.779)],
            3: [(0.166, 0.633), (0.514, 0.633), (0.845, 0.633)],
            4: [(0.514, 0.93), (0.689, 0.888), (0.928, 0.93)]}
crop_names = {0: crops_caf, 2: crops_lind, 3: crops_mmtn, 4: crops_mslk}
for i, pos in crop_pos.items():
    for (px, py), lab in zip(pos, crop_names[i]):
        ha = 'left' if '\n' in lab else 'center'
        axs[i].text(px, py, lab, transform=axs[i].transAxes, ha=ha, va='center',
                    fontsize=27, linespacing=1.25)

# legend
hl = {l.get_label(): l for l in axb.get_lines()}
order = ['Transpiration', 'Evapotranspiration', 'Evaporation']
leg = axb.legend([hl[k] for k in order], order, loc='upper left', bbox_to_anchor=(0.076, 0.572),
                 frameon=False, fontsize=27, handlelength=1.84, handletextpad=0.45,
                 labelspacing=0.17, borderpad=0, borderaxespad=0)
for l in leg.get_lines():
    l.set_linewidth(4.5)

fig.text(106 / W, 1 - 682 / H, 'Daily Water Fluxes (mm d$^{\\mathbf{-1}}$ )', rotation=90,
         ha='center', va='center', fontsize=26, fontweight='bold')
fig.text((X0 + X1) / 2 / W, 1 - 1413 / H, 'Date', ha='center', va='top', fontsize=26, fontweight='bold')

# ---------------- cumulative panels on the right ----------------
cum = [
    (rows[0], 2011, 4.0, 127.5, 0, [400, 800, 1200],
     (c_nt_t_x, c_nt_t), (c_nt_et_x, c_nt_et), (c_nt_e_x, c_nt_e)),
    (rows[1], 2012, 2.5, 190.5, 0, [400, 800, 1200],
     (c_ct_t_x, c_ct_t), (c_ct_et_x, c_ct_et), (c_ct_e_x, c_ct_e)),
    ((567, 778), 2011, 4.0, 127.5, -700, [-400, 400, 800, 1200],
     (c_lind_t_x, c_lind_t), (c_lind_et_x, c_lind_et), (c_lind_e_x, c_lind_e)),
    (rows[3], 2012, 2.5, 190.5, 0, [400, 800, 1200],
     (c_mmtn_t_x, c_mmtn_t), (c_mmtn_et_x, c_mmtn_et), (c_mmtn_e_x, c_mmtn_e)),
    (rows[4], 2013, 1.2, 381.0, 0, [400, 800, 1200],
     (c_mslk_t_x, c_mslk_t), (c_mslk_et_x, c_mslk_et), (c_mslk_e_x, c_mslk_e)),
]
RX = 1594
for (top, bot), y0, span, pxyr, ylo, minors, tr, etr, er in cum:
    ax = fig.add_axes(rect(RX, top, RX + span * pxyr, bot), zorder=2)
    ax.set_facecolor('none')
    ax.plot(tr[0], tr[1], color=GREEN, lw=5, clip_on=False)
    ax.plot(etr[0], etr[1], color=BLUE, lw=5, clip_on=False)
    ax.plot(er[0], er[1], color='black', lw=5, clip_on=False)
    ax.set_xlim(y0, y0 + span)
    ax.set_ylim(ylo, 1600)
    ax.spines['top'].set_visible(False)
    ax.spines['right'].set_visible(False)
    ax.spines['left'].set_linewidth(1.6)
    ax.spines['bottom'].set_linewidth(1.6)
    ax.spines['bottom'].set_position(('data', 0))
    yrs = np.arange(y0, y0 + span + 0.001, 1.0)
    ax.set_xticks(yrs, [str(int(v)) for v in yrs], fontsize=17, fontfamily='DejaVu Sans')
    ax.tick_params(axis='x', direction='in', length=20, width=1.6, pad=14)
    ax.set_yticks([0, 1600], ['0', '1600'], fontsize=17, fontfamily='DejaVu Sans')
    ax.set_yticks(minors, minor=True)
    ax.tick_params(axis='y', which='major', direction='in', length=19.5, width=1.6, pad=12)
    ax.tick_params(axis='y', which='minor', direction='in', length=9.5, width=1.6)
    ax.grid(axis='y', which='both', color=GRID, lw=0.9, ls=(0, (4, 3)))

fig.savefig('out.png', dpi=100, facecolor=fig.get_facecolor())
